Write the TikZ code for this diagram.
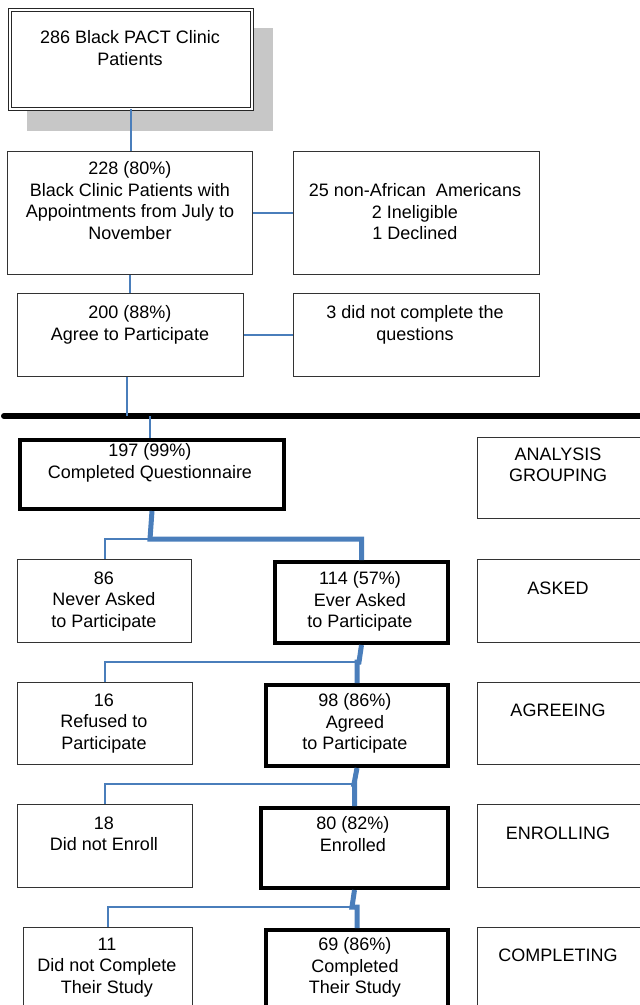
\documentclass[tikz,border=0pt]{standalone}
\usepackage{fontspec}
\setmainfont{Liberation Sans}
\usepackage{tikz}
\definecolor{linkBlue}{HTML}{4A7EBB}
\newcommand{\flowFont}{\fontsize{18}{21.5}\selectfont}
\tikzstyle{normalBox} = [shape=rectangle, draw=black!80, line width=1.4pt,
	fill=white, inner sep=0pt, anchor=north west]
\tikzstyle{thickBox} = [normalBox, draw=black, line width=4pt]
\tikzstyle{titleBox} = [normalBox, draw=black!85, double, double distance=1.8pt,
	line width=1.2pt]
\tikzstyle{boxText} = [align=center, inner sep=0pt, anchor=north, font=\flowFont]
\tikzstyle{thinLink} = [draw=linkBlue, line width=2pt]
\tikzstyle{thickLink} = [draw=linkBlue, line width=5pt]
\tikzstyle{sepLine} = [draw=black, line width=6pt, line cap=round]

\begin{document}
\begin{tikzpicture}[x=1pt, y=-1pt]
  \useasboundingbox (0,0) rectangle (640,1005);
  \fill[black!22] (27,28) rectangle (273,131);
  \node[titleBox, minimum width=242pt, minimum height=99pt] (clinic) at (9,9) {};
  \node[boxText] (clinicT) at (130,30.5) {286 Black PACT Clinic\\Patients};

  \node[normalBox, minimum width=245pt, minimum height=123pt] (appt) at (7,151) {};
  \node[boxText] (apptT) at (130,161.5) {228 (80\%)\\Black Clinic Patients with\\Appointments from July to\\November};
  \node[normalBox, minimum width=246pt, minimum height=123pt] (nonAA) at (293,151) {};
  \node[boxText] (nonAAT) at (415,183.5) {25 non-African~~Americans\\2 Ineligible\\1 Declined};

  \node[normalBox, minimum width=226pt, minimum height=83pt] (agree) at (17,293) {};
  \node[boxText] (agreeT) at (130,305.5) {200 (88\%)\\Agree to Participate};
  \node[normalBox, minimum width=246pt, minimum height=83pt] (noQuest) at (293,293) {};
  \node[boxText] (noQuestT) at (415,305.5) {3 did not complete the\\questions};

  \coordinate (sepL) at (4,416);
  \coordinate (sepR) at (660,416);
  \draw[sepLine] (sepL) -- (sepR);

  \node[thickBox, minimum width=264pt, minimum height=69pt] (quest) at (18,438) {};
  \node[boxText] (questT) at (150,443.5) {197 (99\%)\\Completed Questionnaire};
  \node[normalBox, minimum width=168pt, minimum height=81pt] (grpAnalysis) at (477,437) {};
  \node[boxText] (grpAnalysisT) at (558,447.5) {ANALYSIS\\GROUPING};

  \node[normalBox, minimum width=174pt, minimum height=83pt] (never) at (17,559) {};
  \node[boxText] (neverT) at (104,571.5) {86\\Never Asked\\to Participate};
  \node[thickBox, minimum width=173pt, minimum height=81pt] (asked) at (273,560) {};
  \node[boxText] (askedT) at (360,571.5) {114 (57\%)\\Ever Asked\\to Participate};
  \node[normalBox, minimum width=168pt, minimum height=83pt] (grpAsked) at (477,559) {};
  \node[boxText] (grpAskedT) at (558,581.5) {ASKED};

  \node[normalBox, minimum width=175pt, minimum height=82pt] (refused) at (17,682) {};
  \node[boxText] (refusedT) at (104,693.5) {16\\Refused to\\Participate};
  \node[thickBox, minimum width=182pt, minimum height=81pt] (agreed) at (264,683) {};
  \node[boxText] (agreedT) at (355,693.5) {98 (86\%)\\Agreed\\to Participate};
  \node[normalBox, minimum width=168pt, minimum height=82pt] (grpAgree) at (477,682) {};
  \node[boxText] (grpAgreeT) at (558,703.5) {AGREEING};

  \node[normalBox, minimum width=175pt, minimum height=83pt] (noEnroll) at (17,804) {};
  \node[boxText] (noEnrollT) at (104,816.5) {18\\Did not Enroll};
  \node[thickBox, minimum width=187pt, minimum height=80pt] (enrolled) at (259,806) {};
  \node[boxText] (enrolledT) at (353,816.5) {80 (82\%)\\Enrolled};
  \node[normalBox, minimum width=168pt, minimum height=83pt] (grpEnroll) at (477,804) {};
  \node[boxText] (grpEnrollT) at (558,826.5) {ENROLLING};

  \node[normalBox, minimum width=169pt, minimum height=90pt] (noComplete) at (23,927) {};
  \node[boxText] (noCompleteT) at (107,937.5) {11\\Did not Complete\\Their Study};
  \node[thickBox, minimum width=182pt, minimum height=90pt] (completed) at (264,928) {};
  \node[boxText] (completedT) at (355,937.5) {69 (86\%)\\Completed\\Their Study};
  \node[normalBox, minimum width=168pt, minimum height=90pt] (grpComplete) at (477,927) {};
  \node[boxText] (grpCompleteT) at (558,948.5) {COMPLETING};

  \coordinate (sepA) at (127,416);
  \coordinate (sepB) at (150,416);
  \coordinate (jA) at (150,539);
  \coordinate (jB) at (359,662);
  \coordinate (jC) at (354,784);
  \coordinate (jD) at (352,907);

  \draw[thinLink] (clinic.south) -- (clinic.south |- appt.north);
  \draw[thinLink] (appt.east) -- (nonAA.west);
  \draw[thinLink] (appt.south) -- (appt.south |- agree.north);
  \draw[thinLink] (agree.east) -- (noQuest.west);
  \draw[thinLink] (agree.south -| sepA) -- (sepA);
  \draw[thinLink] (sepB) -- (sepB |- quest.north);

  \draw[thinLink] (jA) -| (never.north);
  \draw[thickLink] (quest.south) -- (jA) -| (asked.north);
  \draw[thinLink] (jB) -| (refused.north);
  \draw[thickLink] (asked.south) -- (jB) -- (agreed.north |- jB) -- (agreed.north);
  \draw[thinLink] (jC) -| (noEnroll.north);
  \draw[thickLink] (agreed.south) -- (jC) -- (enrolled.north |- jC) -- (enrolled.north);
  \draw[thinLink] (jD) -| (noComplete.north);
  \draw[thickLink] (enrolled.south) -- (jD) -- (completed.north |- jD) -- (completed.north);
\end{tikzpicture}
\end{document}
